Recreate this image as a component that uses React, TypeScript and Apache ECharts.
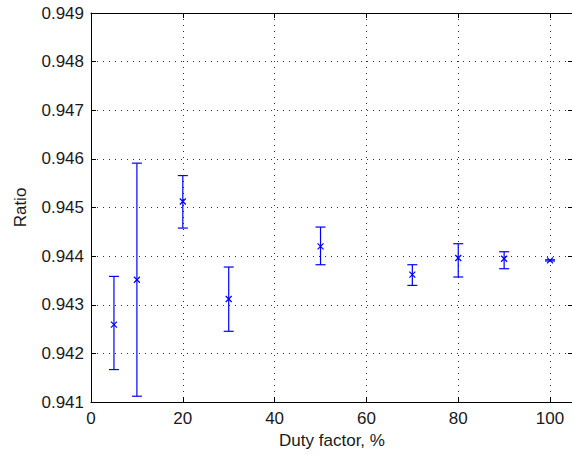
import React, { useEffect, useRef } from "react";
import * as echarts from "echarts";

const dutyFactor = [5, 10, 20, 30, 50, 70, 80, 90, 100];
const ratioMean = [0.94259, 0.943515, 0.945123, 0.943119, 0.944199, 0.943618, 0.943961, 0.943947, 0.943912];
const ratioLow = [0.941667, 0.941119, 0.944577, 0.942454, 0.943823, 0.943398, 0.943571, 0.943741, 0.943900];
const ratioHigh = [0.943583, 0.945912, 0.945657, 0.943776, 0.944598, 0.943823, 0.944255, 0.944090, 0.943925];

const FONT = "'Liberation Sans', Arial, sans-serif";

export default function App() {
  const ref = useRef<HTMLDivElement>(null);
  useEffect(() => {
    if (!ref.current) return;
    const chart = echarts.init(ref.current, null, { renderer: "svg" });
    const data = dutyFactor.map((x, i) => [x, ratioMean[i], ratioLow[i], ratioHigh[i]]);
    const blue = "#0000ff";
    const gridLine = { show: true, lineStyle: { color: "#333", type: [1, 5] as any, width: 1 } };
    const tickLabel = { color: "#1a1a1a", fontSize: 17, fontFamily: FONT };
    chart.setOption({
      animation: false,
      backgroundColor: "#fff",
      grid: { left: 91, top: 13, right: 2, bottom: 52, show: false },
      xAxis: [
        {
          type: "value",
          min: 0,
          max: 105,
          interval: 20,
          position: "bottom",
          name: "Duty factor, %",
          nameLocation: "middle",
          nameGap: 23,
          nameTextStyle: { color: "#1a1a1a", fontSize: 17, fontFamily: FONT },
          axisLine: { show: true, onZero: false, lineStyle: { color: "#000", width: 1 } },
          axisTick: { show: true, inside: true, length: 5, lineStyle: { color: "#000" } },
          axisLabel: { ...tickLabel, margin: 8, showMaxLabel: false },
          splitLine: gridLine,
        },
        {
          type: "value",
          min: 0,
          max: 105,
          interval: 20,
          position: "top",
          axisLine: { show: true, onZero: false, lineStyle: { color: "#000", width: 1 } },
          axisTick: { show: true, inside: true, length: 5, lineStyle: { color: "#000" } },
          axisLabel: { show: false },
          splitLine: { show: false },
        },
      ],
      yAxis: [
        {
          type: "value",
          min: 0.941,
          max: 0.949,
          interval: 0.001,
          position: "left",
          name: "Ratio",
          nameLocation: "middle",
          nameGap: 62,
          nameTextStyle: { color: "#1a1a1a", fontSize: 17, fontFamily: FONT },
          axisLine: { show: true, onZero: false, lineStyle: { color: "#000", width: 1 } },
          axisTick: { show: true, inside: true, length: 5, lineStyle: { color: "#000" } },
          axisLabel: { ...tickLabel, margin: 7, formatter: (v: number) => v.toFixed(3) },
          splitLine: gridLine,
        },
        {
          type: "value",
          min: 0.941,
          max: 0.949,
          interval: 0.001,
          position: "right",
          axisLine: { show: true, onZero: false, lineStyle: { color: "#000", width: 1 } },
          axisTick: { show: true, inside: true, length: 5, lineStyle: { color: "#000" } },
          axisLabel: { show: false },
          splitLine: { show: false },
        },
      ],
      series: [
        {
          type: "custom",
          xAxisIndex: 0,
          yAxisIndex: 0,
          data,
          renderItem: (params: any, api: any) => {
            const x = api.value(0);
            const pm = api.coord([x, api.value(1)]);
            const pl = api.coord([x, api.value(2)]);
            const ph = api.coord([x, api.value(3)]);
            const cw = 5;
            const m = 3;
            const style = { stroke: blue, lineWidth: 1.2, fill: "none" };
            return {
              type: "group",
              children: [
                { type: "line", shape: { x1: pl[0], y1: pl[1], x2: ph[0], y2: ph[1] }, style },
                { type: "line", shape: { x1: pl[0] - cw, y1: pl[1], x2: pl[0] + cw, y2: pl[1] }, style },
                { type: "line", shape: { x1: ph[0] - cw, y1: ph[1], x2: ph[0] + cw, y2: ph[1] }, style },
                { type: "line", shape: { x1: pm[0] - m, y1: pm[1] - m, x2: pm[0] + m, y2: pm[1] + m }, style },
                { type: "line", shape: { x1: pm[0] - m, y1: pm[1] + m, x2: pm[0] + m, y2: pm[1] - m }, style },
              ],
            };
          },
        },
      ],
    });
    return () => chart.dispose();
  }, []);
  return (
    <div
      ref={ref}
      style={{ position: "fixed", left: 0, top: 0, width: 575, height: 454, background: "#fff" }}
    />
  );
}
